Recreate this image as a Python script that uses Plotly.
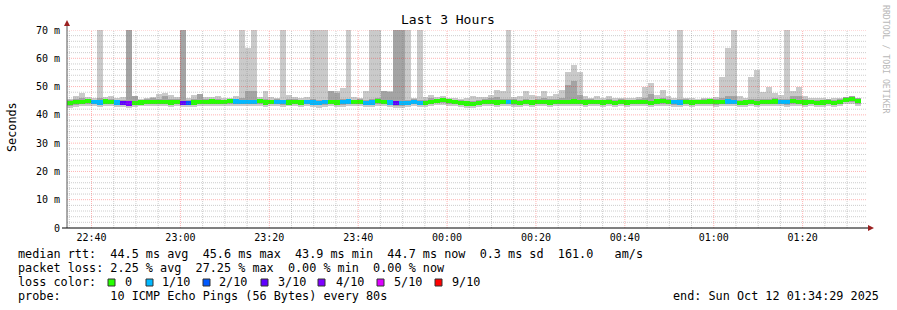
import plotly.graph_objects as go
import pandas as pd

# ---------------- data ----------------
START = "2025-10-11 22:34:29"
END = "2025-10-12 01:34:29"
STEP_S = 80

median = [44.3, 44.5, 44.6, 44.8, 44.6, 44.4, 44.7, 44.5, 44.4, 44.1,
          44.0, 44.3, 44.4, 44.6, 44.5, 44.6, 44.5, 44.4, 44.6, 44.2,
          44.3, 44.4, 44.6, 44.5, 44.7, 44.5, 44.6, 44.8, 44.7, 44.6,
          44.6, 44.5, 44.8, 44.4, 44.5, 44.6, 44.5, 44.4, 44.6, 44.4,
          44.5, 44.4, 44.3, 44.5, 44.6, 44.4, 44.5, 44.7, 44.5, 44.6,
          44.3, 44.4, 44.8, 44.5, 44.4, 44.3, 44.1, 44.3, 44.5, 44.2,
          44.3, 44.5, 44.9, 45.2, 44.8, 44.5, 44.3, 44.0, 43.9, 44.2,
          44.5, 44.6, 44.4, 44.5, 44.6, 44.5, 44.3, 44.5, 44.4, 44.6,
          44.5, 44.4, 44.6, 44.5, 44.6, 44.7, 44.5, 44.4, 44.6, 44.5,
          44.4, 44.5, 44.3, 44.5, 44.4, 44.5, 44.6, 44.5, 44.3, 44.7,
          44.9, 44.6, 44.5, 44.4, 44.5, 44.4, 44.5, 44.6, 44.7, 44.5,
          44.5, 44.7, 44.6, 44.3, 44.4, 44.5, 44.3, 44.6, 44.5, 44.7,
          44.6, 44.5, 44.8, 44.5, 44.4, 44.5, 44.3, 44.4, 44.5, 44.3,
          44.6, 45.3, 45.6, 44.9]

loss = [0, 0, 0, 0, 1, 1, 0, 0, 1, 3,
        4, 0, 0, 0, 0, 0, 0, 0, 0, 3,
        2, 0, 0, 0, 0, 0, 0, 0, 1, 1,
        1, 1, 0, 0, 0, 1, 1, 0, 0, 0,
        1, 1, 1, 1, 0, 0, 1, 1, 0, 0,
        1, 1, 0, 0, 1, 3, 1, 1, 1, 1,
        0, 0, 0, 0, 0, 0, 0, 0, 0, 0,
        0, 0, 0, 0, 1, 0, 0, 0, 0, 0,
        0, 0, 0, 0, 0, 0, 0, 0, 0, 0,
        0, 0, 0, 0, 0, 0, 0, 0, 0, 0,
        0, 0, 1, 1, 0, 0, 0, 0, 0, 0,
        0, 1, 1, 0, 0, 0, 0, 0, 0, 0,
        1, 1, 0, 0, 0, 0, 0, 0, 0, 0,
        0, 0, 0, 0]

ping_max = [45.6, 46.5, 47.7, 46.2, 45.8, 75, 46.3, 46.6, 46.0, 46.4,
            75, 46.6, 45.6, 45.8, 46.3, 47.3, 47.7, 47.0, 46.2, 75,
            46.0, 47.0, 47.5, 46.4, 46.2, 46.6, 45.9, 46.0, 46.5, 75,
            63.7, 75, 46.4, 48.4, 46.2, 46.0, 75, 47.0, 46.2, 46.0,
            46.3, 75, 75, 75, 48.6, 48.6, 49.4, 75, 46.4, 46.0,
            48.6, 75, 75, 48.6, 48.4, 75, 75, 75, 46.0, 75,
            46.2, 47.0, 46.3, 46.6, 46.0, 45.8, 45.6, 45.8, 46.6, 46.4,
            46.2, 47.0, 48.8, 48.6, 75, 46.2, 46.6, 48.4, 47.0, 46.5,
            48.3, 46.8, 47.3, 48.8, 55.0, 57.5, 55.0, 46.6, 46.0, 46.5,
            45.8, 46.6, 46.0, 45.8, 46.0, 45.8, 46.2, 50.0, 51.2, 47.0,
            48.8, 46.6, 46.0, 75, 46.0, 45.8, 45.6, 45.8, 46.0, 46.2,
            53.4, 63.6, 75, 46.6, 46.0, 53.4, 55.8, 48.0, 50.0, 47.7,
            47.0, 75, 48.4, 50.0, 46.5, 46.0, 45.8, 46.0, 45.6, 45.8,
            46.0, 46.2, 46.3, 46.0]

ping_p9 = [45.2, 45.6, 46.0, 45.5, 45.4, 45.8, 45.6, 45.5, 45.3, 45.4,
           75, 46.5, 45.3, 45.5, 46.0, 45.7, 46.8, 45.6, 45.5, 75,
           45.3, 45.5, 47.3, 45.6, 45.5, 45.6, 45.4, 45.5, 45.6, 45.8,
           48.4, 48.4, 45.6, 45.7, 45.4, 45.5, 45.4, 45.6, 45.5, 45.3,
           45.4, 45.6, 45.3, 45.4, 48.4, 47.8, 45.6, 45.7, 45.4, 45.5,
           45.4, 45.6, 45.8, 48.4, 48.0, 75, 75, 45.4, 45.5, 45.3,
           45.3, 45.8, 45.7, 46.0, 45.7, 45.4, 45.2, 45.0, 45.0, 45.3,
           45.5, 45.8, 46.2, 45.6, 45.6, 45.5, 45.4, 45.6, 45.4, 45.6,
           45.8, 45.5, 45.6, 46.0, 50.5, 52.0, 47.0, 45.6, 45.5, 45.4,
           45.3, 45.6, 45.4, 45.5, 45.3, 45.4, 45.6, 45.8, 47.2, 45.7,
           46.0, 45.6, 45.4, 45.5, 45.5, 45.3, 45.4, 45.6, 45.7, 45.5,
           45.8, 46.5, 46.8, 45.4, 45.4, 45.6, 45.5, 45.7, 45.6, 45.8,
           45.6, 45.6, 46.6, 46.8, 45.5, 45.4, 45.3, 45.3, 45.5, 45.3,
           45.6, 46.3, 46.8, 45.8]

ping_p2 = [43.3, 43.6, 43.8, 43.9, 43.7, 43.5, 43.9, 43.7, 43.6, 43.4,
           43.2, 43.5, 43.7, 43.9, 43.7, 43.8, 43.7, 43.5, 43.8, 43.6,
           43.6, 43.6, 43.8, 43.7, 43.9, 43.8, 43.7, 44.0, 43.9, 43.7,
           43.8, 43.7, 44.0, 43.5, 43.7, 43.8, 43.6, 43.7, 43.9, 43.6,
           43.7, 43.5, 43.4, 43.6, 43.8, 43.5, 43.6, 43.9, 43.7, 43.8,
           43.4, 43.6, 44.0, 43.7, 43.6, 43.3, 43.2, 43.5, 43.7, 43.4,
           43.5, 43.8, 44.1, 44.3, 44.0, 43.7, 43.5, 43.3, 43.2, 43.5,
           43.8, 43.7, 43.6, 43.8, 43.8, 43.6, 43.5, 43.7, 43.6, 43.8,
           43.7, 43.6, 43.8, 43.7, 43.8, 43.9, 43.7, 43.6, 43.8, 43.7,
           43.6, 43.7, 43.4, 43.7, 43.6, 43.7, 43.8, 43.7, 43.5, 43.9,
           44.0, 43.8, 43.6, 43.6, 43.7, 43.5, 43.7, 43.8, 43.9, 43.6,
           43.7, 43.8, 43.7, 43.4, 43.5, 43.7, 43.5, 43.8, 43.7, 43.8,
           43.7, 43.6, 43.9, 43.7, 43.5, 43.7, 43.5, 43.6, 43.7, 43.5,
           43.8, 44.4, 44.6, 43.9]

ping_min = [42.6, 42.9, 43.2, 43.3, 43.1, 42.9, 43.3, 43.0, 42.9, 42.7,
            42.4, 42.8, 43.1, 43.2, 43.0, 43.2, 43.0, 42.8, 43.2, 42.9,
            42.9, 42.9, 43.1, 43.0, 43.3, 43.1, 43.0, 43.3, 43.2, 43.0,
            43.1, 43.0, 43.3, 42.8, 43.0, 43.1, 42.9, 43.0, 43.2, 42.9,
            43.0, 42.8, 42.6, 42.9, 43.1, 42.8, 42.9, 43.2, 43.0, 43.1,
            42.7, 42.9, 43.3, 43.0, 42.9, 42.6, 42.5, 42.8, 43.0, 42.7,
            42.8, 43.1, 43.4, 43.6, 43.3, 43.0, 42.8, 42.6, 42.5, 42.8,
            43.1, 43.0, 42.9, 43.1, 43.1, 42.9, 42.8, 43.0, 42.9, 43.1,
            43.0, 42.9, 43.1, 43.0, 43.1, 43.2, 43.0, 42.9, 43.1, 43.0,
            42.9, 43.0, 42.7, 43.0, 42.9, 43.0, 43.1, 43.0, 42.8, 43.2,
            43.3, 43.1, 42.9, 42.9, 43.0, 42.8, 43.0, 43.1, 43.2, 42.9,
            43.0, 43.1, 43.0, 42.7, 42.8, 43.0, 42.8, 43.1, 43.0, 43.1,
            43.0, 42.9, 43.2, 43.0, 42.8, 43.0, 42.8, 42.9, 43.0, 42.8,
            43.1, 43.7, 43.9, 43.2]

loss_labels = ["0", "1/10", "2/10", "3/10", "4/10", "5/10", "9/10"]
loss_colors = ["#26ff00", "#00b8ff", "#0059ff", "#5e00ff", "#7e00ff", "#dd00ff", "#ff0000"]
y_tick_vals = [0, 10, 20, 30, 40, 50, 60, 70]
y_tick_text = ["0", "10 m", "20 m", "30 m", "40 m", "50 m", "60 m", "70 m"]

legend_rtt = "median rtt:  44.5 ms avg  45.6 ms max  43.9 ms min  44.7 ms now  0.3 ms sd  161.0   am/s"
legend_loss = "packet loss: 2.25 % avg  27.25 % max  0.00 % min  0.00 % now"
legend_probe = "probe:       10 ICMP Echo Pings (56 Bytes) every 80s"
legend_end = "end: Sun Oct 12 01:34:29 2025"

# ---------------- derived ----------------
n = len(median)
t0 = pd.Timestamp(START)
xs = [t0 + pd.Timedelta(seconds=STEP_S * (k + 0.5)) for k in range(n)]
W = STEP_S * 1000


def loss_color(l):
    idx = {0: 0, 1: 1, 2: 2, 3: 3, 4: 4}.get(l, 5 if l < 9 else 6)
    return loss_colors[idx]


MONO = "DejaVu Sans Mono"
fig = go.Figure()
fig.add_trace(go.Bar(x=xs, base=ping_min, y=[a - b for a, b in zip(ping_max, ping_min)],
                     width=W, marker=dict(color="#cacaca", line=dict(width=0)), hoverinfo="skip"))
fig.add_trace(go.Bar(x=xs, base=ping_p2, y=[a - b for a, b in zip(ping_p9, ping_p2)],
                     width=W, marker=dict(color="#a4a4a4", line=dict(width=0)), hoverinfo="skip"))
fig.add_trace(go.Bar(x=xs, base=[m - 0.75 for m in median], y=[1.5] * n,
                     width=W, marker=dict(color=[loss_color(l) for l in loss], line=dict(width=0)),
                     hoverinfo="skip"))

# layout geometry (pixels)
L, R, T, B = 67, 30, 30, 82
FW, FH = 897, 310
PW, PH = FW - L - R, FH - T - B


def xp(px):
    return (px - L) / PW


def yp(py):
    return (FH - B - py) / PH


shapes = []
# grid (drawn above data, like rrdtool)
tmaj = pd.Timestamp("2025-10-11 22:35:00")
tend = pd.Timestamp(END)
t = tmaj
while t < tend:
    major = (t.minute % 20 == 0)
    shapes.append(dict(type="line", xref="x", yref="paper", x0=t, x1=t, y0=0, y1=1, layer="above",
                       line=dict(color="rgba(255,0,0,0.30)" if major else "rgba(130,130,130,0.40)",
                                 width=1, dash="1px,1px")))
    t += pd.Timedelta(minutes=5)
for v in range(2, 71, 2):
    major = (v % 10 == 0)
    shapes.append(dict(type="line", xref="paper", yref="y", x0=0, x1=1, y0=v, y1=v, layer="above",
                       line=dict(color="rgba(255,0,0,0.30)" if major else "rgba(130,130,130,0.40)",
                                 width=1, dash="1px,1px")))
# axes lines + arrows
shapes.append(dict(type="line", xref="paper", yref="paper", x0=xp(67), x1=xp(67), y0=yp(228), y1=yp(24),
                   layer="above", line=dict(color="#555555", width=1)))
shapes.append(dict(type="line", xref="paper", yref="paper", x0=xp(62), x1=xp(869), y0=yp(228), y1=yp(228),
                   layer="above", line=dict(color="#000000", width=1)))
shapes.append(dict(type="path", xref="paper", yref="paper", layer="above",
                   path=f"M {xp(67)} {yp(20)} L {xp(64)} {yp(26)} L {xp(70)} {yp(26)} Z",
                   fillcolor="#9b2020", line=dict(width=0)))
shapes.append(dict(type="path", xref="paper", yref="paper", layer="above",
                   path=f"M {xp(874)} {yp(228)} L {xp(868)} {yp(225)} L {xp(868)} {yp(231)} Z",
                   fillcolor="#9b2020", line=dict(width=0)))

NB = "\u00a0"
annotations = []


def txt(s, px, py, size=11.8, anchor="left", color="#000000", angle=0):
    annotations.append(dict(text=s.replace(" ", NB), xref="paper", yref="paper", x=xp(px), y=yp(py),
                            xanchor=anchor, yanchor="middle", showarrow=False, textangle=angle,
                            font=dict(family=MONO, size=size, color=color)))


txt("Last 3 Hours", 448, 20, size=13, anchor="center")
txt("Seconds", 12, 127, angle=-90, anchor="center")
txt("RRDTOOL / TOBI OETIKER", 886, 59, size=8.2, anchor="center", color="#b8b8b8", angle=90)
txt(legend_rtt, 16, 254)
txt(legend_loss, 16, 268)
txt("loss color:", 16, 282)
txt(legend_probe, 16, 296)
txt(legend_end, 881, 296, anchor="right")

box_x = [108, 146, 203, 261, 318, 377, 435]
lab_x = [123, 160, 217, 276, 334, 392, 450]
for bx, lx, lab, col in zip(box_x, lab_x, loss_labels, loss_colors):
    shapes.append(dict(type="rect", xref="paper", yref="paper", x0=xp(bx), x1=xp(bx + 7),
                       y0=yp(286), y1=yp(279), fillcolor=col, line=dict(color="#333333", width=1)))
    txt(lab, lx, 282)

fig.update_layout(
    width=FW, height=FH,
    margin=dict(l=L, r=R, t=T, b=B, pad=0),
    paper_bgcolor="#ffffff", plot_bgcolor="#ffffff",
    barmode="overlay", bargap=0, showlegend=False,
    shapes=shapes, annotations=annotations,
    font=dict(family=MONO, size=10, color="#000000"),
    xaxis=dict(type="date", range=[START, END], showgrid=False, zeroline=False,
               tickmode="linear", tick0="2025-10-11 22:40:00", dtick=20 * 60 * 1000,
               tickformat="%H:%M", ticks="", showline=False,
               tickfont=dict(family=MONO, size=10), ticklabelstandoff=2),
    yaxis=dict(range=[0, 70], showgrid=False, zeroline=False, tickmode="array",
               tickvals=y_tick_vals, ticktext=[s.replace(" ", NB) for s in y_tick_text],
               ticks="", showline=False, tickfont=dict(family=MONO, size=10), ticklabelstandoff=6),
)

fig.write_html("out.html")
